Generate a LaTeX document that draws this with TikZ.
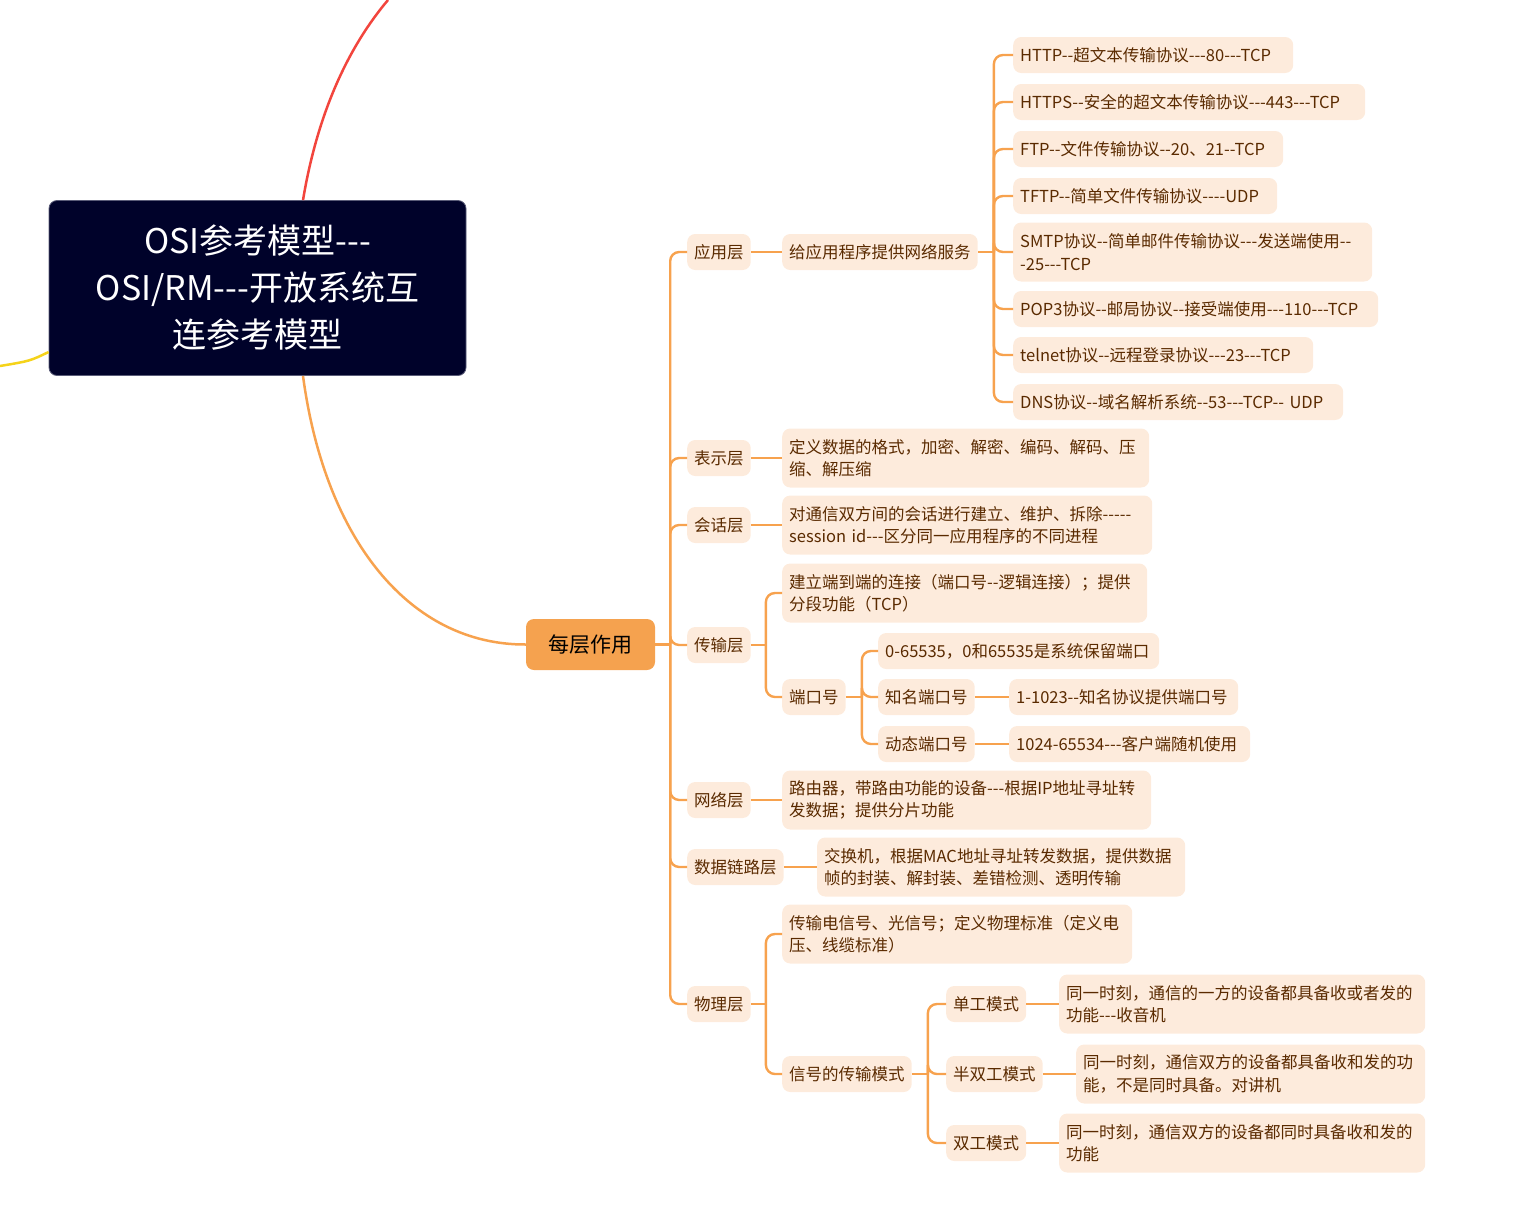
\documentclass[tikz,border=0pt]{standalone}
\usepackage{fontspec}
\setmainfont{Noto Sans CJK SC}[Ligatures=TeXOff]
\definecolor{leaf}{HTML}{FDEBDC}
\definecolor{txt}{HTML}{5A2A00}
\definecolor{ln}{HTML}{F7A24E}
\definecolor{rootc}{HTML}{00022A}
\definecolor{rootb}{HTML}{5A5C78}
\definecolor{redc}{HTML}{F2453D}
\definecolor{yelc}{HTML}{F5D31A}
\definecolor{midc}{HTML}{F5A24F}
\begin{document}
\begin{tikzpicture}[x=1pt,y=-1pt,
  lf/.style={fill=leaf, rounded corners=8pt, anchor=west, inner xsep=7pt, inner ysep=0pt,
    minimum height=36pt, text=txt, font=\fontsize{16.5}{22.5}\selectfont, align=left},
  two/.style={minimum height=59pt},
  conn/.style={draw=ln, line width=2.4pt, rounded corners=9pt},
  rootbox/.style={fill=rootc, draw=rootb, line width=0.8pt, rounded corners=8pt,
    minimum width=417pt, minimum height=175pt, text=white,
    font=\fontsize{34}{47}\selectfont, align=center},
  midbox/.style={fill=midc, rounded corners=8pt, minimum width=129pt, minimum height=51pt,
    text=black, font=\fontsize{21}{24}\selectfont},
]
\useasboundingbox (0,0) rectangle (1537,1210);

% root and central node
\node[rootbox] (root) at (257.5,288) {OSI参考模型---\\OSI/RM---开放系统互\\连参考模型};
\node[midbox] (mid) at (590.5,644.5) {每层作用};

\coordinate (redend) at (388,0);
\coordinate (yelend) at (0,366);
\draw[redc, line width=2.5pt] ([xshift=45.5pt]root.north) .. controls (318,110) and (350,45) .. (redend);
\draw[yelc, line width=2.5pt] ([yshift=-64pt]root.west) .. controls (30,361) .. (yelend);
\draw[ln, line width=2.5pt] ([xshift=45.5pt]root.south) .. controls (325,540) and (410,645) .. (mid.west);

% level 2
\node[lf] (L1) at (687,252) {应用层};
\node[lf] (L2) at (687,458) {表示层};
\node[lf] (L3) at (687,525) {会话层};
\node[lf] (L4) at (687,645) {传输层};
\node[lf] (L5) at (687,800) {网络层};
\node[lf] (L6) at (687,867) {数据链路层};
\node[lf] (L7) at (687,1004) {物理层};

% application layer
\node[lf] (A1) at (782,252) {给应用程序提供网络服务};
\node[lf, text width=266pt] (A1a) at (1013,55) {HTTP--超文本传输协议---80---TCP};
\node[lf, text width=338pt] (A1b) at (1013,102) {HTTPS--安全的超文本传输协议---443---TCP};
\node[lf, text width=256pt] (A1c) at (1013,149) {FTP--文件传输协议--20、21--TCP};
\node[lf, text width=250pt] (A1d) at (1013,196) {TFTP--简单文件传输协议----UDP};
\node[lf, two, text width=345pt] (A1e) at (1013,252) {SMTP协议--简单邮件传输协议---发送端使用--\\-25---TCP};
\node[lf, text width=351pt] (A1f) at (1013,309) {POP3协议--邮局协议--接受端使用---110---TCP};
\node[lf, text width=286pt] (A1g) at (1013,355) {telnet协议--远程登录协议---23---TCP};
\node[lf, text width=316pt] (A1h) at (1013,402) {DNS协议--域名解析系统--53---TCP-- UDP};

% presentation / session
\node[lf, two, text width=353pt] (P1) at (782,458) {定义数据的格式，加密、解密、编码、解码、压\\缩、解压缩};
\node[lf, two, text width=356pt] (S1) at (782,525) {对通信双方间的会话进行建立、维护、拆除-----\\session id---区分同一应用程序的不同进程};

% transport
\node[lf, two, text width=351pt] (T1) at (782,593) {建立端到端的连接（端口号--逻辑连接）；提供\\分段功能（TCP）};
\node[lf] (T2) at (782,697) {端口号};
\node[lf, text width=267pt] (T2a) at (878,651) {0-65535，0和65535是系统保留端口};
\node[lf] (T2b) at (878,697) {知名端口号};
\node[lf] (T2c) at (878,744) {动态端口号};
\node[lf, text width=215pt] (T2bd) at (1009,697) {1-1023--知名协议提供端口号};
\node[lf, text width=227pt] (T2cd) at (1009,744) {1024-65534---客户端随机使用};

% network / data link
\node[lf, two, text width=355pt] (N1) at (782,800) {路由器，带路由功能的设备---根据IP地址寻址转\\发数据；提供分片功能};
\node[lf, two, text width=354pt] (D1) at (817,867) {交换机，根据MAC地址寻址转发数据，提供数据\\帧的封装、解封装、差错检测、透明传输};

% physical
\node[lf, two, text width=336pt] (Ph1) at (782,934) {传输电信号、光信号；定义物理标准（定义电\\压、线缆标准）};
\node[lf] (Ph2) at (782,1074) {信号的传输模式};
\node[lf] (M1) at (946,1004) {单工模式};
\node[lf] (M2) at (946,1074) {半双工模式};
\node[lf] (M3) at (946,1143) {双工模式};
\node[lf, two, text width=352pt] (M1d) at (1059,1004) {同一时刻，通信的一方的设备都具备收或者发的\\功能---收音机};
\node[lf, two, text width=335pt] (M2d) at (1076,1074) {同一时刻，通信双方的设备都具备收和发的功\\能，不是同时具备。对讲机};
\node[lf, two, text width=352pt] (M3d) at (1059,1143) {同一时刻，通信双方的设备都同时具备收和发的\\功能};

% connectors
\draw[conn] (mid.east) -- ([xshift=15pt]mid.east);
\foreach \c in {L1,L2,L3,L4,L5,L6,L7}
  \draw[conn] ([xshift=15pt]mid.east) |- (\c.west);

\draw[conn] (L1.east) -- (A1.west);
\draw[conn] (A1.east) -- ([xshift=16pt]A1.east);
\foreach \c in {A1a,A1b,A1c,A1d,A1e,A1f,A1g,A1h}
  \draw[conn] ([xshift=16pt]A1.east) |- (\c.west);

\draw[conn] (L2.east) -- (P1.west);
\draw[conn] (L3.east) -- (S1.west);

\draw[conn] (L4.east) -- ([xshift=15pt]L4.east);
\foreach \c in {T1,T2}
  \draw[conn] ([xshift=15pt]L4.east) |- (\c.west);
\draw[conn] (T2.east) -- ([xshift=16pt]T2.east);
\foreach \c in {T2a,T2b,T2c}
  \draw[conn] ([xshift=16pt]T2.east) |- (\c.west);
\draw[conn] (T2b.east) -- (T2bd.west);
\draw[conn] (T2c.east) -- (T2cd.west);

\draw[conn] (L5.east) -- (N1.west);
\draw[conn] (L6.east) -- (D1.west);

\draw[conn] (L7.east) -- ([xshift=15pt]L7.east);
\foreach \c in {Ph1,Ph2}
  \draw[conn] ([xshift=15pt]L7.east) |- (\c.west);
\draw[conn] (Ph2.east) -- ([xshift=16pt]Ph2.east);
\foreach \c in {M1,M2,M3}
  \draw[conn] ([xshift=16pt]Ph2.east) |- (\c.west);
\draw[conn] (M1.east) -- (M1d.west);
\draw[conn] (M2.east) -- (M2d.west);
\draw[conn] (M3.east) -- (M3d.west);
\end{tikzpicture}
\end{document}
